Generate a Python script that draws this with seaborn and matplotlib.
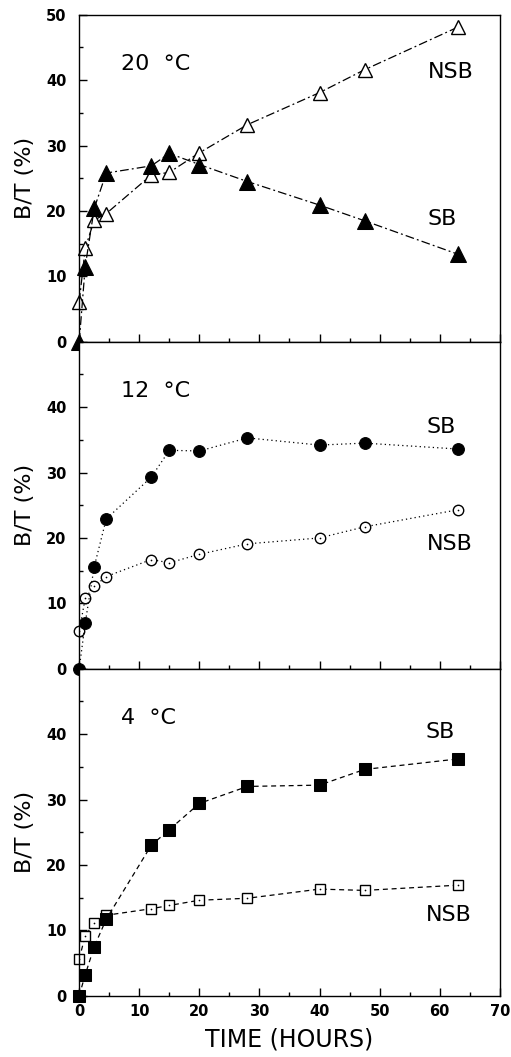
import matplotlib
matplotlib.use("Agg")
import matplotlib.pyplot as plt
import seaborn as sns
from matplotlib.ticker import MultipleLocator

# sampling times (hours)
time_h = [0, 1, 2.5, 4.5, 12, 15, 20, 28, 40, 47.5, 63]

# 20 C
sb_20 = [0, 11.5, 20.4, 25.8, 26.9, 28.8, 27.1, 24.5, 20.9, 18.5, 13.4]
nsb_20 = [6.1, 14.3, 18.6, 19.6, 25.5, 25.9, 28.9, 33.2, 38.1, 41.6, 48.1]

# 12 C
sb_12 = [0, 7.0, 15.6, 22.9, 29.3, 33.4, 33.3, 35.3, 34.2, 34.5, 33.6]
nsb_12 = [5.7, 10.8, 12.6, 14.1, 16.7, 16.2, 17.5, 19.1, 20.0, 21.7, 24.3]

# 4 C
sb_4 = [0, 3.2, 7.5, 11.7, 23.0, 25.4, 29.4, 32.0, 32.2, 34.6, 36.2]
nsb_4 = [5.6, 9.2, 11.1, 12.3, 13.3, 13.8, 14.6, 14.9, 16.3, 16.1, 16.9]

temp_labels = ["20  °C", "12  °C", "4  °C"]

sns.set_style("ticks")
plt.rcParams["font.family"] = ["DejaVu Sans"]
plt.rcParams.update({"text.color": "black", "axes.labelcolor": "black",
                     "xtick.color": "black", "ytick.color": "black",
                     "axes.edgecolor": "black"})

fig, axes = plt.subplots(3, 1, sharex=True, figsize=(5.11, 10.57), dpi=100)
fig.subplots_adjust(left=0.155, right=0.978, top=0.986, bottom=0.058, hspace=0)

dashdot = (0, (7, 2.5, 1.5, 2.5))
panels = [
    (sb_20, nsb_20, "^", "^", 11, 10.5, dashdot),
    (sb_12, nsb_12, "o", "o", 8.5, 7.5, (0, (1, 2.5))),
    (sb_4, nsb_4, "s", "s", 8.5, 6.5, (0, (4, 3))),
]

for ax, (sb, nsb, m_sb, m_nsb, ms_sb, ms_nsb, ls), lab in zip(axes, panels, temp_labels):
    sns.lineplot(x=time_h, y=nsb, ax=ax, color="black", linewidth=0.9, linestyle=ls,
                 marker=m_nsb, markersize=ms_nsb, markerfacecolor="white",
                 markeredgecolor="black", markeredgewidth=1.0, sort=False, clip_on=False)
    sns.lineplot(x=time_h, y=sb, ax=ax, color="black", linewidth=0.9, linestyle=ls,
                 marker=m_sb, markersize=ms_sb, markerfacecolor="black",
                 markeredgecolor="black", sort=False, clip_on=False)
    if m_nsb != "^":
        sns.scatterplot(x=time_h, y=nsb, ax=ax, color="black", s=1.5, linewidth=0, zorder=5)

    ax.set_xlim(0, 70)
    ax.set_ylim(0, 50)
    ax.xaxis.set_major_locator(MultipleLocator(10))
    ax.xaxis.set_minor_locator(MultipleLocator(5))
    ax.yaxis.set_major_locator(MultipleLocator(10))
    ax.yaxis.set_minor_locator(MultipleLocator(5))
    ax.tick_params(which="both", direction="in", top=False, right=False, width=1)
    ax.tick_params(which="major", length=6)
    ax.tick_params(which="minor", length=3)
    ax.tick_params(axis="y", which="major", pad=9, labelsize=10.5)
    ax.tick_params(axis="x", which="major", pad=6, labelsize=10.5)
    for s in ax.spines.values():
        s.set_linewidth(1.0)
        s.set_color("black")
    ax.set_ylabel("B/T (%)", fontsize=16, labelpad=8)
    ax.text(7, 42.5, lab, fontsize=16, va="center", ha="left")

axes[1].set_yticks([0, 10, 20, 30, 40])
axes[2].set_yticks([0, 10, 20, 30, 40])
for ax in axes:
    for t in ax.get_yticklabels() + ax.get_xticklabels():
        t.set_fontweight("bold")

axes[0].text(61.9, 41.3, "NSB", fontsize=16, ha="center", va="center")
axes[0].text(60.4, 18.7, "SB", fontsize=16, ha="center", va="center")
axes[1].text(60.2, 37.0, "SB", fontsize=16, ha="center", va="center")
axes[1].text(61.7, 19.1, "NSB", fontsize=16, ha="center", va="center")
axes[2].text(60.1, 40.4, "SB", fontsize=16, ha="center", va="center")
axes[2].text(61.6, 12.3, "NSB", fontsize=16, ha="center", va="center")

axes[2].set_xlabel("TIME (HOURS)", fontsize=17, labelpad=6)

fig.savefig("out.png", dpi=100)
